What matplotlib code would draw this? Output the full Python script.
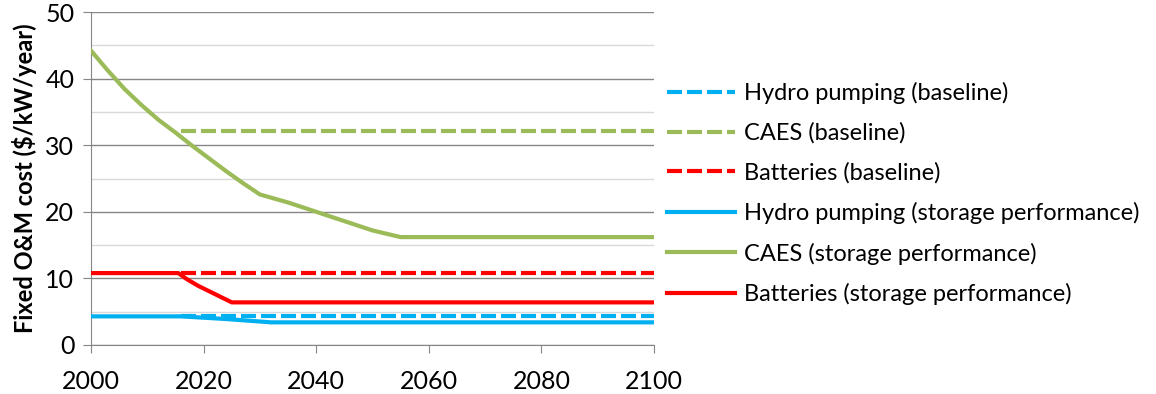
import numpy as np
import matplotlib.pyplot as plt
from matplotlib.ticker import MultipleLocator

plt.rcParams['font.family'] = ['Lato', 'DejaVu Sans']

# Datos
anios_caes = [2000, 2003, 2006, 2009, 2012, 2015, 2018, 2021, 2024, 2027, 2030,
              2035, 2040, 2045, 2050, 2055, 2100]
caes_perf = [44.2, 41.2, 38.4, 36.0, 33.8, 31.9, 29.9, 28.0, 26.1, 24.3, 22.6,
             21.4, 20.0, 18.6, 17.2, 16.2, 16.2]

anios_bat = [2000, 2015.5, 2017, 2019, 2025, 2100]
bat_perf = [10.8, 10.8, 9.9, 8.9, 6.4, 6.4]

anios_hidro = [2000, 2016, 2024, 2032, 2100]
hidro_perf = [4.3, 4.3, 3.9, 3.4, 3.4]

anios_base = [2016, 2100]
hidro_base = [4.3, 4.3]
caes_base = [32.2, 32.2]
bat_base = [10.8, 10.8]

azul = '#00B0F0'
verde = '#9BBB59'
rojo = '#FF0000'

fig = plt.figure(figsize=(11.56, 3.94), dpi=100)
ax = fig.add_axes([91 / 1156, 49 / 394, 563 / 1156, 333 / 394])

dash = (3.6, 1.2)
ax.plot(anios_base, hidro_base, color=azul, lw=3, dashes=dash, label='Hydro pumping (baseline)', zorder=3)
ax.plot(anios_base, caes_base, color=verde, lw=3, dashes=dash, label='CAES (baseline)', zorder=3)
ax.plot(anios_base, bat_base, color=rojo, lw=3, dashes=dash, label='Batteries (baseline)', zorder=3)
ax.plot(anios_hidro, hidro_perf, color=azul, lw=3, label='Hydro pumping (storage performance)', zorder=3)
ax.plot(anios_caes, caes_perf, color=verde, lw=3, label='CAES (storage performance)', zorder=3)
ax.plot(anios_bat, bat_perf, color=rojo, lw=3, label='Batteries (storage performance)', zorder=3)

ax.set_xlim(2000, 2100)
ax.set_ylim(0, 50)
ax.xaxis.set_major_locator(MultipleLocator(20))
ax.yaxis.set_major_locator(MultipleLocator(10))
ax.yaxis.set_minor_locator(MultipleLocator(5))
ax.grid(axis='y', which='major', color='#868686', lw=1)
ax.grid(axis='y', which='minor', color='#D9D9D9', lw=1)
ax.set_axisbelow(True)

for s in ['top', 'right']:
    ax.spines[s].set_visible(False)
for s in ['left', 'bottom']:
    ax.spines[s].set_color('#868686')
ax.tick_params(axis='y', which='major', length=6, color='#868686', labelsize=18, pad=6)
ax.tick_params(axis='y', which='minor', length=0)
ax.tick_params(axis='x', length=6, color='#868686', labelsize=18, pad=12)
ax.set_ylabel('Fixed O&M cost ($/kW/year)', fontsize=17, fontweight='bold', labelpad=6)

ax.legend(loc='center left', bbox_to_anchor=(1.0, 0.455), frameon=False, fontsize=17,
          handlelength=2.9, handletextpad=0.35, labelspacing=0.78, borderaxespad=0.15)

plt.savefig('out.png', dpi=100)
